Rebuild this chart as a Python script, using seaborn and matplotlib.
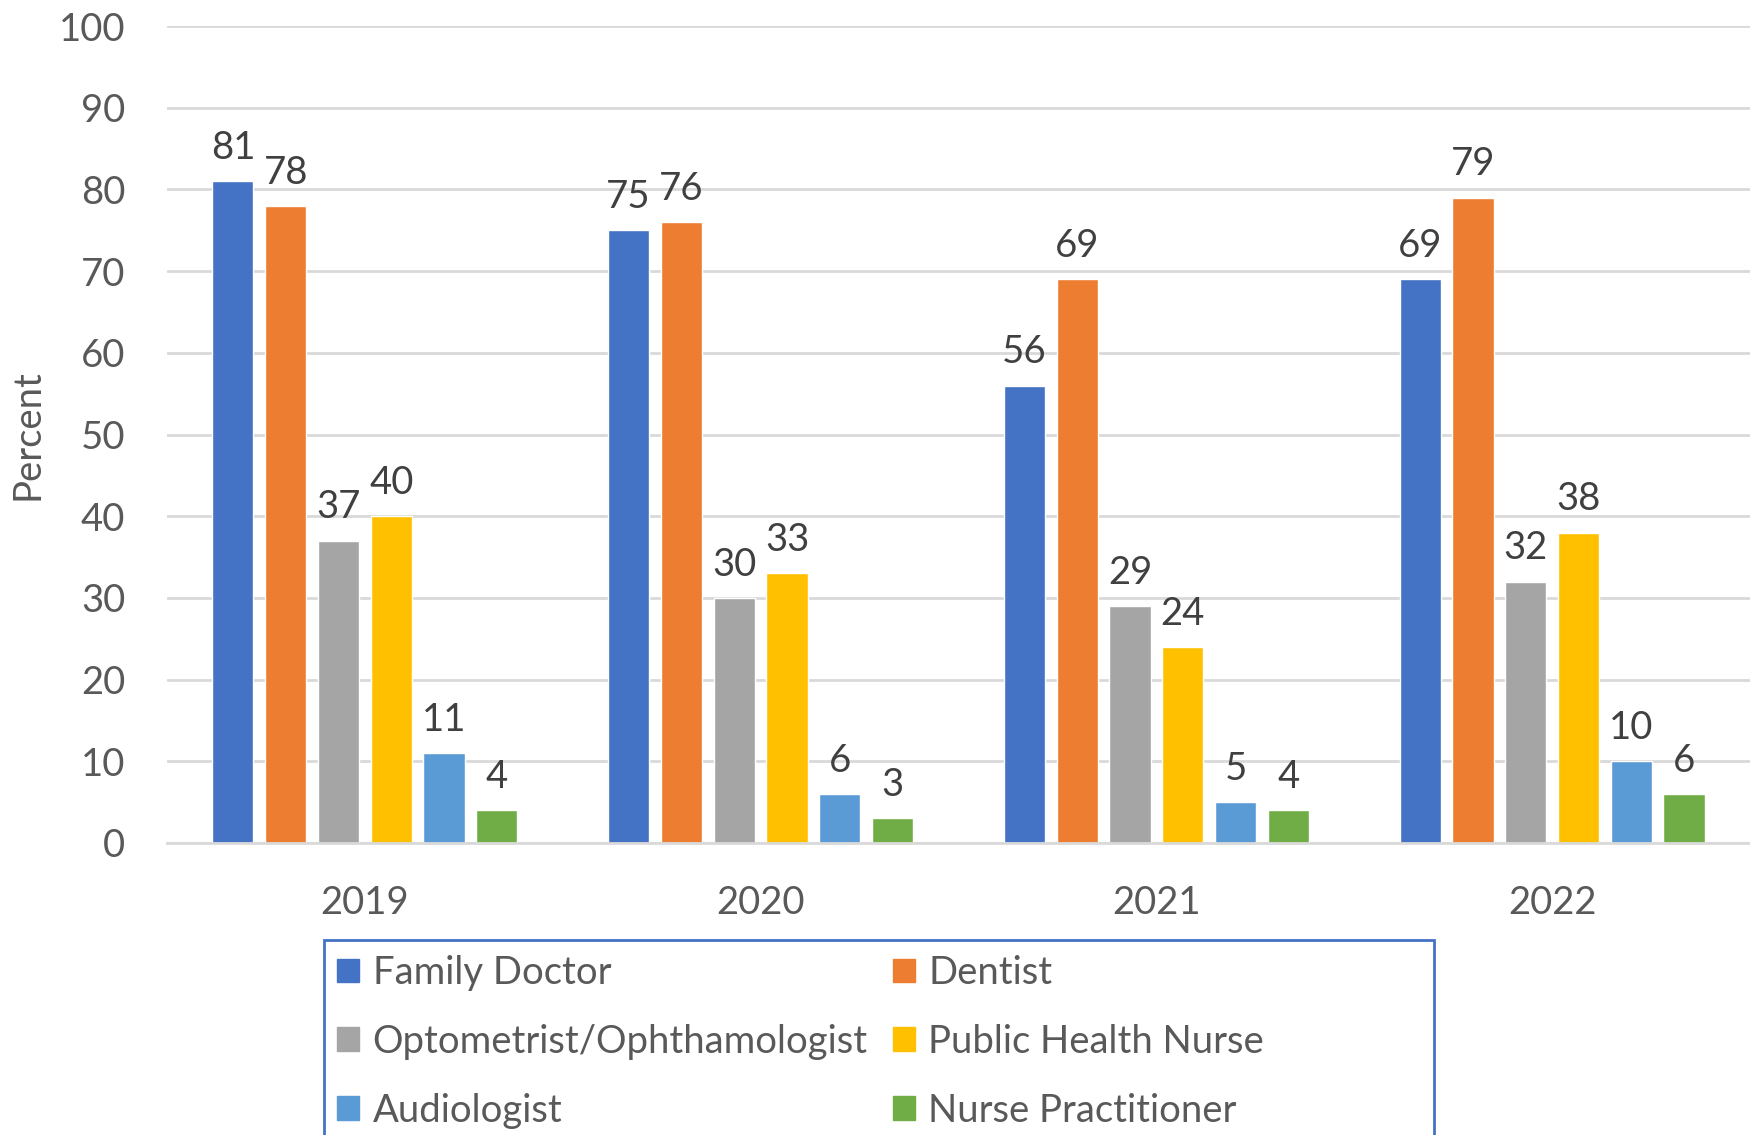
import pandas as pd
import seaborn as sns
import matplotlib.pyplot as plt
from matplotlib.patches import Rectangle

years = ['2019', '2020', '2021', '2022']
providers = ['Family Doctor', 'Dentist', 'Optometrist/Ophthamologist',
             'Public Health Nurse', 'Audiologist', 'Nurse Practitioner']
family_doctor = [81, 75, 56, 69]
dentist = [78, 76, 69, 79]
optometrist = [37, 30, 29, 32]
public_health_nurse = [40, 33, 24, 38]
audiologist = [11, 6, 5, 10]
nurse_practitioner = [4, 3, 4, 6]
colors = ['#4472C4', '#ED7D31', '#A5A5A5', '#FFC000', '#5B9BD5', '#70AD47']

series = [family_doctor, dentist, optometrist, public_health_nurse, audiologist, nurse_practitioner]
rows = []
for name, vals in zip(providers, series):
    for yr, v in zip(years, vals):
        rows.append({'Year': yr, 'Provider': name, 'Percent': v})
df = pd.DataFrame(rows)

sns.set_style('white')
plt.rcParams['font.family'] = ['Lato', 'DejaVu Sans']
FS = 27.5

fig = plt.figure(figsize=(17.5, 11.35), dpi=100)
ax = fig.add_axes([0.0954, 0.2573, 0.9046, 0.7197])

sns.barplot(data=df, x='Year', y='Percent', hue='Provider', hue_order=providers,
            palette=colors, saturation=1, width=0.8, gap=0.22, ax=ax, legend=False,
            edgecolor='white', linewidth=1)

for cont in ax.containers:
    ax.bar_label(cont, padding=11, fontsize=FS, color='#404040')

ax.set_ylim(0, 100)
ax.set_yticks(range(0, 101, 10))
ax.yaxis.grid(True, color='#D9D9D9', linewidth=2)
ax.set_axisbelow(True)
for s in ['top', 'right', 'left']:
    ax.spines[s].set_visible(False)
ax.spines['bottom'].set_color('#D9D9D9')
ax.spines['bottom'].set_linewidth(2)
ax.tick_params(axis='y', length=0, pad=30, labelsize=FS, labelcolor='#595959')
ax.tick_params(axis='x', length=0, pad=30, labelsize=FS, labelcolor='#595959')
ax.set_xlabel('')
ax.set_ylabel('Percent', fontsize=FS, color='#595959')
ax.yaxis.set_label_coords(-0.077, 0.5)

# legend, filled row by row like the original
order = [0, 2, 4, 1, 3, 5]
handles = [plt.Rectangle((0, 0), 1, 1, color=colors[i]) for i in order]
labels = [providers[i] for i in order]
leg = fig.legend(handles, labels, loc='upper left', ncol=2,
                 bbox_to_anchor=(337 / 1750, 1 - 955 / 1135),
                 fontsize=FS, frameon=False, handlelength=0.58, handleheight=0.58,
                 handletextpad=0.35, labelspacing=0.86, borderpad=0,
                 columnspacing=0.66, borderaxespad=0)
for t in leg.get_texts():
    t.set_color('#595959')

fig.patches.append(Rectangle((324 / 1750, -0.05), 1110 / 1750, 0.05 + 1 - 940 / 1135,
                             transform=fig.transFigure, fill=False,
                             edgecolor='#4472C4', linewidth=2))

fig.savefig('out.png', dpi=100)
